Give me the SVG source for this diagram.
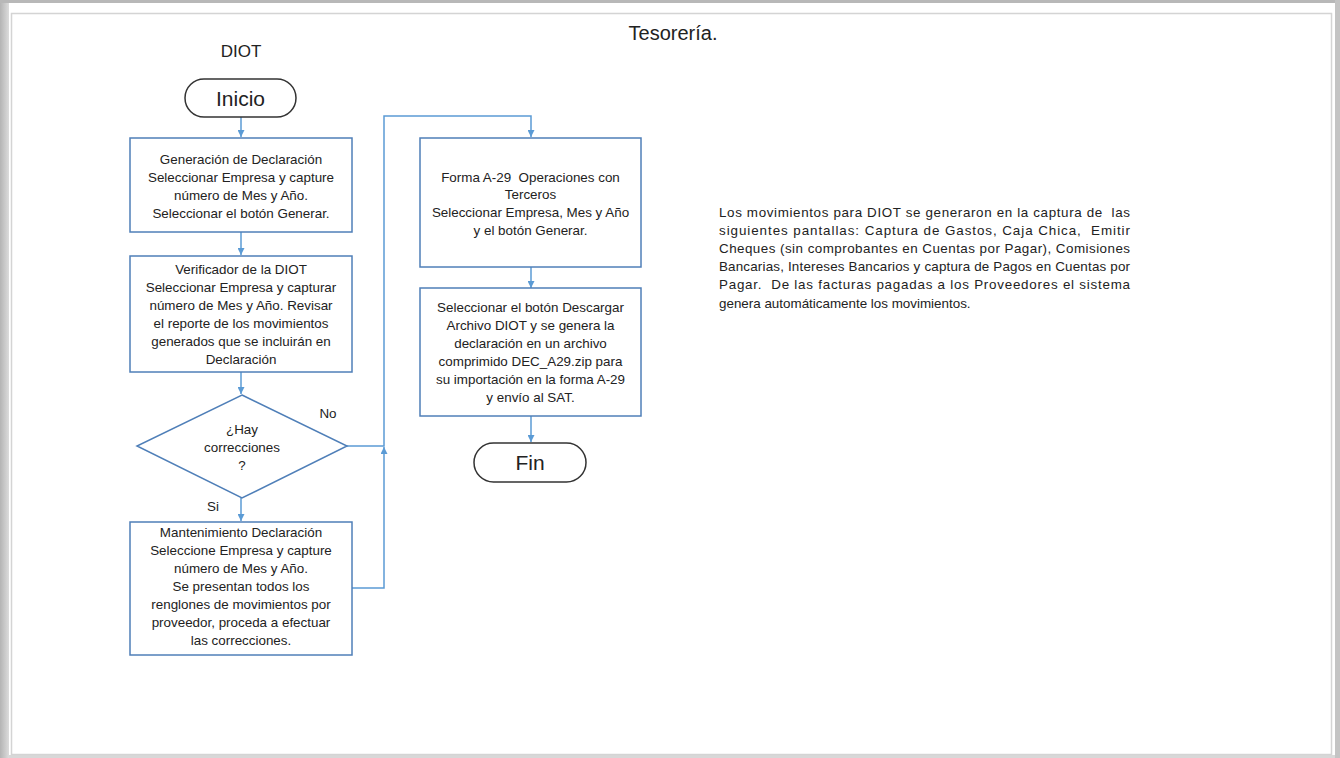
<svg xmlns="http://www.w3.org/2000/svg" width="1340" height="758" viewBox="0 0 1340 758">
<defs>
<linearGradient id="lshade" x1="0" x2="1" y1="0" y2="0">
<stop offset="0" stop-color="#b4b4b4"/><stop offset="1" stop-color="#dcdcdc"/>
</linearGradient>
<marker id="arr" viewBox="0 0 10 10" refX="10" refY="5" markerWidth="7" markerHeight="7" markerUnits="userSpaceOnUse" orient="auto">
<path d="M0,0 L10,5 L0,10 z" fill="#5b9bd5"/>
</marker>
<style>
.box{fill:#fff;stroke:#4f7fb8;stroke-width:1.5}
.term{fill:#fff;stroke:#333;stroke-width:1.5}
.conn{fill:none;stroke:#5b9bd5;stroke-width:1.5}
.t{font-family:"Liberation Sans",Arial,sans-serif;font-size:13.4px;fill:#222;text-anchor:middle;white-space:pre}
.p{font-family:"Liberation Sans",Arial,sans-serif;font-size:13.4px;fill:#222;white-space:pre}
.big{font-family:"Liberation Sans",Arial,sans-serif;font-size:21px;fill:#222;text-anchor:middle}
.hd{font-family:"Liberation Sans",Arial,sans-serif;font-size:17px;fill:#222;text-anchor:middle}
</style>
</defs>
<rect x="0" y="0" width="1340" height="758" fill="#fff"/>
<rect x="0" y="0" width="9" height="758" fill="url(#lshade)"/>
<rect x="0" y="0" width="1340" height="3" fill="#b8b8b8"/>
<rect x="1335" y="0" width="5" height="758" fill="#c4c4c4"/>
<rect x="9" y="755" width="1326" height="3" fill="#d8d8d8"/>
<rect x="11.5" y="13.5" width="1320" height="741" fill="none" stroke="#d4d4d4" stroke-width="1.5"/>

<text class="big" x="673" y="40" style="font-size:20px">Tesorería.</text>
<text class="hd" x="241" y="57">DIOT</text>

<g id="connectors">
<line class="conn" x1="241" y1="117" x2="241" y2="137" marker-end="url(#arr)"/>
<line class="conn" x1="241" y1="232" x2="241" y2="255" marker-end="url(#arr)"/>
<line class="conn" x1="241" y1="372" x2="241" y2="394" marker-end="url(#arr)"/>
<line class="conn" x1="241" y1="498" x2="241" y2="521" marker-end="url(#arr)"/>
<polyline class="conn" points="347,446 384,446 384,116 531,116 531,137" marker-end="url(#arr)"/>
<polyline class="conn" points="352,588 384,588 384,447" marker-end="url(#arr)"/>
<line class="conn" x1="531" y1="267" x2="531" y2="288" marker-end="url(#arr)"/>
<line class="conn" x1="531" y1="416" x2="531" y2="442" marker-end="url(#arr)"/>
</g>

<g id="inicio">
<rect class="term" x="185" y="79" width="111" height="38" rx="19"/>
<text class="big" x="240.5" y="106">Inicio</text>
</g>

<g id="generacion">
<rect class="box" x="130" y="138" width="222" height="94"/>
<text class="t" x="241" y="164">Generación de Declaración</text>
<text class="t" x="241" y="182">Seleccionar Empresa y capture</text>
<text class="t" x="241" y="200">número de Mes y Año.</text>
<text class="t" x="241" y="218">Seleccionar el botón Generar.</text>
</g>

<g id="verificador">
<rect class="box" x="130" y="256" width="222" height="116"/>
<text class="t" x="241" y="274">Verificador de la DIOT</text>
<text class="t" x="241" y="292">Seleccionar Empresa y capturar</text>
<text class="t" x="241" y="310">número de Mes y Año. Revisar</text>
<text class="t" x="241" y="328">el reporte de los movimientos</text>
<text class="t" x="241" y="346">generados que se incluirán en</text>
<text class="t" x="241" y="364">Declaración</text>
</g>

<g id="decision">
<polygon class="box" points="242,395 347,446 242,498 137,446"/>
<text class="t" x="242" y="434">¿Hay</text>
<text class="t" x="242" y="452">correcciones</text>
<text class="t" x="242" y="470">?</text>
<text class="t" x="328" y="418">No</text>
<text class="t" x="213" y="511">Si</text>
</g>

<g id="mantenimiento">
<rect class="box" x="130" y="522" width="222" height="133"/>
<text class="t" x="241" y="537">Mantenimiento Declaración</text>
<text class="t" x="241" y="555">Seleccione Empresa y capture</text>
<text class="t" x="241" y="573">número de Mes y Año.</text>
<text class="t" x="241" y="591">Se presentan todos los</text>
<text class="t" x="241" y="609">renglones de movimientos por</text>
<text class="t" x="241" y="627">proveedor, proceda a efectuar</text>
<text class="t" x="241" y="645">las correcciones.</text>
</g>

<g id="forma">
<rect class="box" x="420" y="138" width="221" height="129"/>
<text class="t" x="530.5" y="182">Forma A-29  Operaciones con</text>
<text class="t" x="530.5" y="199">Terceros</text>
<text class="t" x="530.5" y="217">Seleccionar Empresa, Mes y Año</text>
<text class="t" x="530.5" y="235">y el botón Generar.</text>
</g>

<g id="descargar">
<rect class="box" x="420" y="288" width="221" height="128"/>
<text class="t" x="530.5" y="312">Seleccionar el botón Descargar</text>
<text class="t" x="530.5" y="330">Archivo DIOT y se genera la</text>
<text class="t" x="530.5" y="348">declaración en un archivo</text>
<text class="t" x="530.5" y="366">comprimido DEC_A29.zip para</text>
<text class="t" x="530.5" y="384">su importación en la forma A-29</text>
<text class="t" x="530.5" y="402">y envío al SAT.</text>
</g>

<g id="fin">
<rect class="term" x="474" y="443" width="112" height="39" rx="19.5"/>
<text class="big" x="530" y="470">Fin</text>
</g>

<g id="nota">
<text class="p" x="719" y="217" textLength="411" lengthAdjust="spacing">Los movimientos para DIOT se generaron en la captura de  las</text>
<text class="p" x="719" y="235" textLength="411" lengthAdjust="spacing">siguientes pantallas: Captura de Gastos, Caja Chica,  Emitir</text>
<text class="p" x="719" y="253" textLength="411" lengthAdjust="spacing">Cheques (sin comprobantes en Cuentas por Pagar), Comisiones</text>
<text class="p" x="719" y="271" textLength="411" lengthAdjust="spacing">Bancarias, Intereses Bancarios y captura de Pagos en Cuentas por</text>
<text class="p" x="719" y="289" textLength="411" lengthAdjust="spacing">Pagar.  De las facturas pagadas a los Proveedores el sistema</text>
<text class="p" x="719" y="308">genera automáticamente los movimientos.</text>
</g>
</svg>
